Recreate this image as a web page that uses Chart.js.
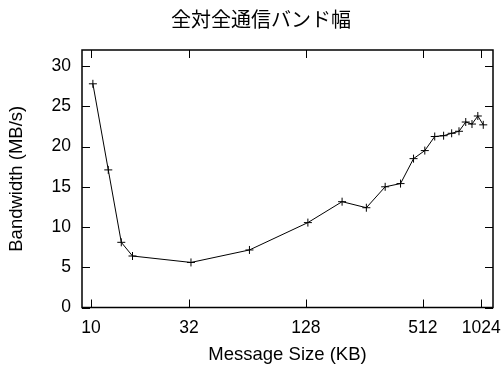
<!DOCTYPE html>
<html>
<head>
<meta charset="utf-8">
<script src="https://cdn.jsdelivr.net/npm/chart.js@4/dist/chart.umd.min.js"></script>
<style>
  html, body { margin: 0; padding: 0; background: #fff; }
  #wrap { width: 502px; height: 366px; position: relative; }
</style>
</head>
<body>
<div id="wrap"><canvas id="c" width="502" height="366"></canvas></div>
<script>
// Message sizes in KB (1 KB = 1000 bytes) and measured all-to-all bandwidth
const messageSizeKB = [10.24, 12.29, 14.34, 16.38, 32.77, 65.54, 131.07, 196.61, 262.14,
  327.68, 393.22, 458.75, 524.29, 589.82, 655.36, 720.90, 786.43, 851.97, 917.50, 983.04, 1048.58];
const bandwidthMBs = [27.8, 17.1, 8.1, 6.4, 5.6, 7.15, 10.55, 13.15, 12.4,
  15.0, 15.4, 18.5, 19.5, 21.25, 21.35, 21.65, 21.9, 23.05, 22.8, 23.8, 22.7];
const xTickValues = [10, 32, 128, 512, 1024];
const yTickValues = [0, 5, 10, 15, 20, 25, 30];
const chartTitle = '全対全通信バンド幅';

const FONT = "'Liberation Sans', Arial, Helvetica, sans-serif";

// Title line above the plot frame
const titleLine = {
  id: 'titleLine',
  afterDraw(chart) {
    const { ctx } = chart;
    ctx.save();
    ctx.fillStyle = '#000';
    ctx.font = "20px 'Noto Sans CJK JP', sans-serif";
    ctx.textAlign = 'left';
    ctx.textBaseline = 'middle';
    ctx.fillText(chartTitle, 171, 19.5);
    ctx.restore();
  }
};

// Inward tick marks on all four sides plus the closed frame
const frameTicks = {
  id: 'frameTicks',
  afterDatasetsDraw(chart) {
    const { ctx, chartArea: a, scales: { x, y } } = chart;
    const len = 8;
    ctx.save();
    ctx.strokeStyle = '#000';
    ctx.lineWidth = 1;
    ctx.beginPath();
    xTickValues.forEach(v => {
      const px = Math.round(x.getPixelForValue(v)) + 0.5;
      ctx.moveTo(px, a.bottom); ctx.lineTo(px, a.bottom - len);
      ctx.moveTo(px, a.top); ctx.lineTo(px, a.top + len);
    });
    yTickValues.forEach(v => {
      const py = Math.round(y.getPixelForValue(v)) + 0.5;
      ctx.moveTo(a.left, py); ctx.lineTo(a.left + len, py);
      ctx.moveTo(a.right, py); ctx.lineTo(a.right - len, py);
    });
    ctx.stroke();
    ctx.lineWidth = 1.5;
    ctx.strokeRect(a.left, a.top, a.right - a.left, a.bottom - a.top);
    ctx.restore();
  }
};

new Chart(document.getElementById('c'), {
  type: 'line',
  data: {
    datasets: [{
      data: messageSizeKB.map((s, i) => ({ x: s, y: bandwidthMBs[i] })),
      borderColor: '#000',
      borderWidth: 1,
      pointStyle: 'cross',
      pointRadius: 4,
      pointBorderWidth: 1,
      pointBorderColor: '#000',
      tension: 0,
      fill: false
    }]
  },
  options: {
    responsive: false,
    animation: false,
    devicePixelRatio: 1,
    layout: { padding: { left: 0, right: 9, top: 50, bottom: 0 } },
    plugins: {
      legend: { display: false },
      tooltip: { enabled: false },
      title: { display: false }
    },
    scales: {
      x: {
        type: 'logarithmic',
        min: 9,
        max: 1177,
        afterBuildTicks(scale) { scale.ticks = xTickValues.map(v => ({ value: v })); },
        afterFit(scale) {
          scale.height = 58.5;
          scale.paddingLeft = 0;
          scale.paddingRight = 0;
        },
        grid: { display: false, drawTicks: false },
        border: { display: false },
        ticks: {
          color: '#000',
          font: { family: FONT, size: 17.5 },
          padding: 10,
          maxRotation: 0,
          autoSkip: false,
          callback: v => String(v)
        },
        title: {
          display: true,
          text: 'Message Size (KB)',
          color: '#000',
          font: { family: FONT, size: 18.5 },
          padding: { top: 0, bottom: 0 }
        }
      },
      y: {
        type: 'linear',
        min: 0,
        max: 32,
        afterBuildTicks(scale) { scale.ticks = yTickValues.map(v => ({ value: v })); },
        afterFit(scale) {
          scale.width = 82;
          scale.paddingTop = 0;
          scale.paddingBottom = 0;
        },
        grid: { display: false, drawTicks: false },
        border: { display: false },
        ticks: {
          color: '#000',
          font: { family: FONT, size: 17.5 },
          padding: 11,
          autoSkip: false
        },
        title: {
          display: true,
          text: 'Bandwidth (MB/s)',
          color: '#000',
          font: { family: FONT, size: 18.5 },
          padding: { top: 6, bottom: 0 }
        }
      }
    }
  },
  plugins: [frameTicks, titleLine]
});
</script>
</body>
</html>
